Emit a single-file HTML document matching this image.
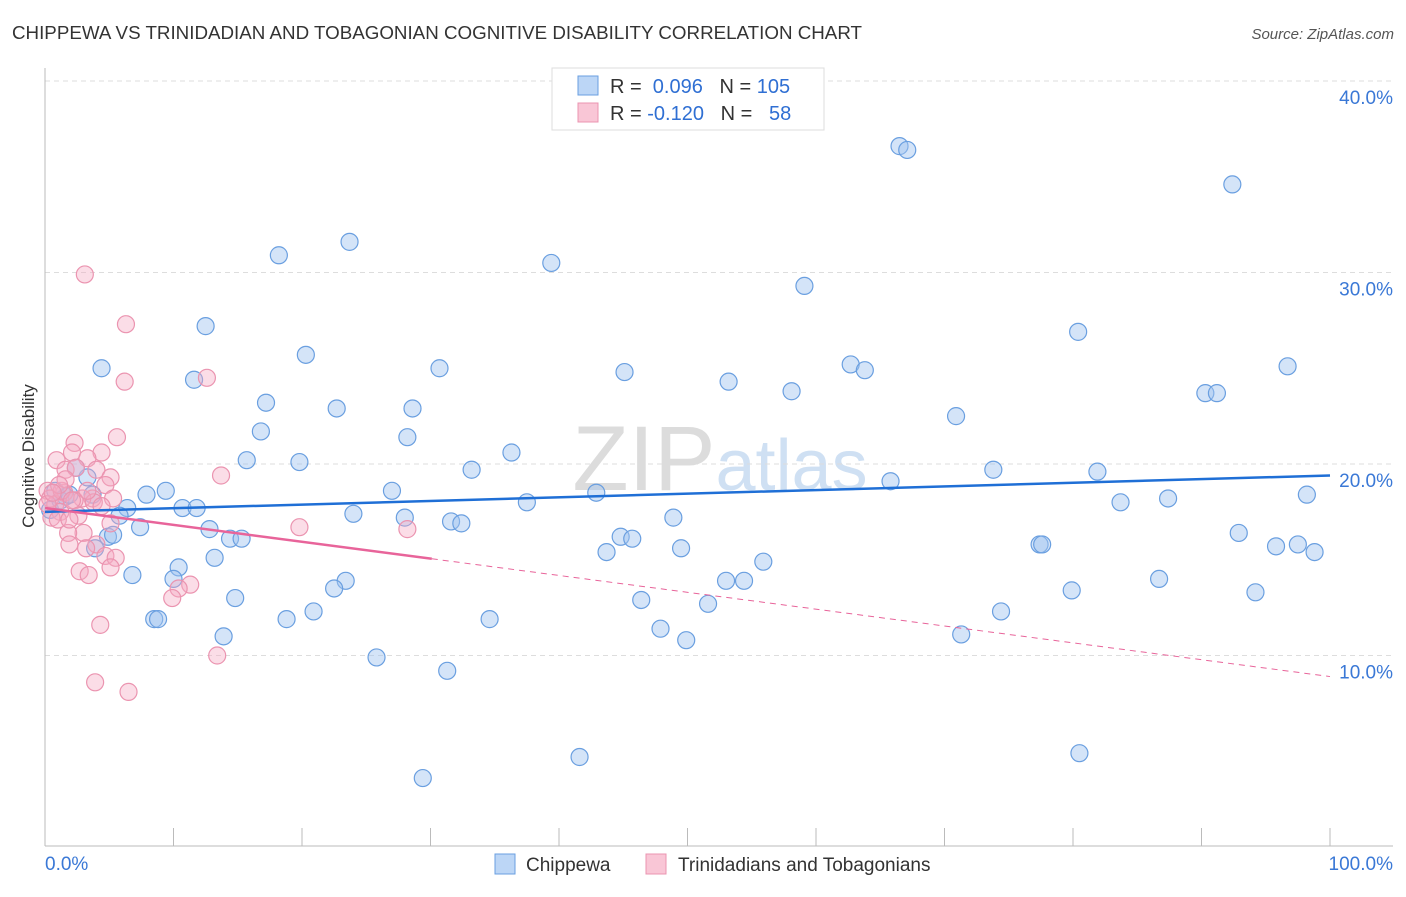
<!DOCTYPE html>
<html><head><meta charset="utf-8"><style>
body{margin:0;background:#fff;font-family:"Liberation Sans",sans-serif;}
svg text{font-family:"Liberation Sans",sans-serif;}
</style></head><body>
<svg id="chart" width="1406" height="892" viewBox="0 0 1406 892" xmlns="http://www.w3.org/2000/svg">
<text x="12" y="39" font-size="18" fill="#333" textLength="850" lengthAdjust="spacingAndGlyphs">CHIPPEWA VS TRINIDADIAN AND TOBAGONIAN COGNITIVE DISABILITY CORRELATION CHART</text>
<text x="1394" y="39" font-size="15" fill="#555" font-style="italic" text-anchor="end">Source: ZipAtlas.com</text>
<text x="720" y="490" font-size="92" fill="#e4e8ee" text-anchor="middle" font-family="Liberation Serif"><tspan fill="#dcdcdc">ZIP</tspan><tspan fill="#cfe0f3" font-family="Liberation Sans" font-size="72">atlas</tspan></text>
<g id="grid"></g>
<g id="axes"></g>
<g id="pts"></g>
<g id="lines"></g>
<text transform="translate(34,456) rotate(-90)" font-size="17" fill="#333" text-anchor="middle">Cognitive Disability</text>
<g>
<rect x="552" y="68" width="272" height="62" fill="#fff" stroke="#ddd"/>
<rect x="578" y="76" width="20" height="19" fill="#bcd6f6" stroke="#6a9fe0"/>
<rect x="578" y="103" width="20" height="19" fill="#f9c6d6" stroke="#eb94b0"/>
<text x="610" y="93" font-size="20" fill="#333">R = <tspan fill="#2f6fd3">&#160;0.096</tspan>&#160;&#160;&#160;N = <tspan fill="#2f6fd3">105</tspan></text>
<text x="610" y="120" font-size="20" fill="#333">R = <tspan fill="#2f6fd3">-0.120</tspan>&#160;&#160;&#160;N = <tspan fill="#2f6fd3">&#160;&#160;58</tspan></text>
</g>
<g>
<rect x="495" y="854" width="20" height="20" fill="#bcd6f6" stroke="#6a9fe0"/>
<text x="526" y="871" font-size="19" fill="#333">Chippewa</text>
<rect x="646" y="854" width="20" height="20" fill="#f9c6d6" stroke="#eb94b0"/>
<text x="678" y="871" font-size="19" fill="#333">Trinidadians and Tobagonians</text>
</g>
</svg>
<script>
const blueX=[18.2,23.7,39.4,66.5,67.1,92.4,59.1,80.4,12.5,20.3,4.4,11.6,30.7,45.1,53.2,62.7,63.8,96.7,17.2,22.7,28.6,58.1,90.3,91.2,70.9,16.8,28.2,36.3,15.7,19.8,33.2,73.8,81.9,3.3,2.4,9.4,7.9,27.0,42.9,65.8,98.2,87.4,83.7,37.5,6.4,10.7,11.8,24.0,28.0,31.6,32.4,48.9,5.8,7.4,12.8,14.4,15.3,4.9,5.3,44.8,45.7,92.9,77.4,77.6,95.8,97.5,98.8,3.9,13.2,43.7,49.5,55.9,10.4,10.0,6.8,23.4,22.5,53.0,54.4,86.7,14.8,46.4,51.6,79.9,94.2,20.9,18.8,34.6,8.5,8.8,74.4,13.9,47.9,49.9,71.3,25.8,31.3,41.6,80.5,29.4,1.6,0.8,0.4,1.2,1.9,3.7];
const blueY=[30.9,31.6,30.5,36.6,36.4,34.6,29.3,26.9,27.2,25.7,25.0,24.4,25.0,24.8,24.3,25.2,24.9,25.1,23.2,22.9,22.9,23.8,23.7,23.7,22.5,21.7,21.4,20.6,20.2,20.1,19.7,19.7,19.6,19.3,19.8,18.6,18.4,18.6,18.5,19.1,18.4,18.2,18.0,18.0,17.7,17.7,17.7,17.4,17.2,17.0,16.9,17.2,17.3,16.7,16.6,16.1,16.1,16.2,16.3,16.2,16.1,16.4,15.8,15.8,15.7,15.8,15.4,15.6,15.1,15.4,15.6,14.9,14.6,14.0,14.2,13.9,13.5,13.9,13.9,14.0,13.0,12.9,12.7,13.4,13.3,12.3,11.9,11.9,11.9,11.9,12.3,11.0,11.4,10.8,11.1,9.9,9.2,4.7,4.9,3.6,18.3,18.6,17.6,18.1,18.4,18.4];
const pinkX=[3.1,6.3,6.2,12.6,5.6,2.3,4.4,2.1,3.3,0.9,1.6,4.0,5.1,13.7,2.4,4.7,3.7,2.9,1.5,0.2,0.4,0.8,1.2,0.5,1.0,3.0,1.8,1.9,4.0,5.1,19.8,28.2,4.7,5.5,2.7,3.4,5.1,11.3,10.4,9.9,4.3,13.4,3.9,6.5,2.3,1.3,1.6,2.1,0.2,5.3,3.2,3.8,2.6,1.1,0.6,1.9,4.4,3.3];
const pinkY=[29.9,27.3,24.3,24.5,21.4,21.1,20.6,20.6,20.3,20.2,19.7,19.7,19.3,19.4,19.8,18.9,18.2,18.2,18.5,18.6,18.2,17.9,17.5,17.2,17.1,16.4,16.4,15.8,15.8,16.9,16.7,16.6,15.2,15.1,14.4,14.2,14.6,13.7,13.5,13.0,11.6,10.0,8.6,8.1,18.1,18.6,19.2,18.1,17.9,18.2,15.6,18.0,17.3,18.9,18.5,17.1,17.8,18.6];
const yTicks=[10,20,30,40];
const xTicks=[0,10,20,30,40,50,60,70,80,90,100];
const blueTrend=[17.5,19.4];
const pinkTrend=[17.7,8.9];
const pinkSolidEnd=30.1;
const NS='http://www.w3.org/2000/svg';
const xs=v=>45+v*12.85, ys=v=>847-v*19.15;
function mk(tag,attrs,parent){const e=document.createElementNS(NS,tag);for(const k in attrs)e.setAttribute(k,attrs[k]);document.getElementById(parent).appendChild(e);return e;}
yTicks.forEach(t=>{
 const l=mk('line',{x1:45,x2:1393,y1:ys(t),y2:ys(t),stroke:'#ddd','stroke-dasharray':'5,4'},'grid');
 
 
 const tx=mk('text',{x:1393,y:ys(t)+23,'font-size':19,fill:'#3a78d6','text-anchor':'end'},'grid');
 tx.textContent=t.toFixed(1)+'%';
 
 
});
const ax=mk('line',{x1:45,x2:45,y1:68,y2:846,stroke:'#bbb'},'axes');


const bx=mk('line',{x1:45,x2:1393,y1:846,y2:846,stroke:'#bbb'},'axes');


xTicks.forEach(t=>{
 const l=mk('line',{x1:xs(t),x2:xs(t),y1:828,y2:846,stroke:'#bbb'},'axes');
 
 
});
[[0,'0.0%','start',45],[100,'100.0%','end',1393]].forEach(a=>{
 const tx=mk('text',{x:a[3],y:870,'font-size':19,fill:'#3a78d6','text-anchor':a[2]},'axes');
 tx.textContent=a[1];
 
 
});
blueX.forEach((x,i)=>{
 const c=mk('circle',{cx:xs(x),cy:ys(blueY[i]),r:8.5,fill:'rgba(160,195,240,0.45)',stroke:'#6a9fe0','stroke-width':1.2},'pts');
 
 
});
pinkX.forEach((x,i)=>{
 const c=mk('circle',{cx:xs(x),cy:ys(pinkY[i]),r:8.5,fill:'rgba(245,170,195,0.4)',stroke:'#eb94b0','stroke-width':1.2},'pts');
 
 
});
const bl=mk('line',{x1:xs(0),y1:ys(blueTrend[0]),x2:xs(100),y2:ys(blueTrend[1]),stroke:'#1f6fd6','stroke-width':2.5},'lines');


const pm=pinkTrend[0]+(pinkTrend[1]-pinkTrend[0])*pinkSolidEnd/100;
const pl=mk('line',{x1:xs(0),y1:ys(pinkTrend[0]),x2:xs(pinkSolidEnd),y2:ys(pm),stroke:'#e8649a','stroke-width':2.5},'lines');


const pd=mk('line',{x1:xs(pinkSolidEnd),y1:ys(pm),x2:xs(100),y2:ys(pinkTrend[1]),stroke:'#e8649a','stroke-width':1,'stroke-dasharray':'6,5'},'lines');


</script>
</body></html>
